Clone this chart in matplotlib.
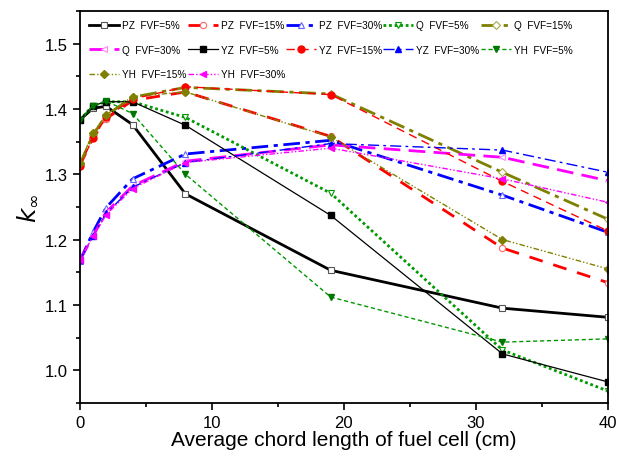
import matplotlib
matplotlib.use("Agg")
import matplotlib.pyplot as plt
from matplotlib.ticker import MultipleLocator

plt.rcParams['font.family'] = ['Liberation Sans', 'DejaVu Sans']
plt.rcParams['mathtext.fontset'] = 'dejavusans'

# chord lengths (cm)
x = [0, 1, 2, 4, 8, 19, 32, 40]

# k-infinity values
pz5 = [1.383, 1.401, 1.404, 1.376, 1.270, 1.153, 1.095, 1.081]
pz15 = [1.313, 1.355, 1.385, 1.413, 1.426, 1.358, 1.187, 1.134]
pz30 = [1.167, 1.211, 1.249, 1.293, 1.331, 1.352, 1.268, 1.211]
q5 = [1.383, 1.405, 1.411, 1.411, 1.387, 1.271, 1.031, 0.968]
q15 = [1.315, 1.360, 1.390, 1.418, 1.433, 1.423, 1.303, 1.231]
q30 = [1.168, 1.205, 1.242, 1.282, 1.320, 1.345, 1.326, 1.290]
yz5 = [1.383, 1.405, 1.411, 1.411, 1.375, 1.237, 1.025, 0.982]
yz15 = [1.313, 1.355, 1.387, 1.415, 1.434, 1.422, 1.289, 1.213]
yz30 = [1.168, 1.205, 1.240, 1.280, 1.318, 1.347, 1.337, 1.303]
yh5 = [1.383, 1.405, 1.412, 1.393, 1.300, 1.112, 1.043, 1.048]
yh15 = [1.317, 1.363, 1.391, 1.419, 1.426, 1.357, 1.200, 1.155]
yh30 = [1.168, 1.205, 1.238, 1.278, 1.318, 1.340, 1.293, 1.257]

olive = '#808000'
green = '#009900'

fig = plt.figure(figsize=(6.18, 4.6), dpi=100)
ax = fig.add_axes([0.129, 0.122, 0.855, 0.852])

h = {}
h['pz5'], = ax.plot(x, pz5, color='black', lw=2, ls='-', marker='s', ms=4.5,
                    mfc='white', mec='#555555', mew=0.8, label='PZ  FVF=5%')
h['pz15'], = ax.plot(x, pz15, color='red', lw=2, ls=(0, (5, 4)), marker='o', ms=4.5,
                     mfc='white', mec='#ff6666', mew=0.8, label='PZ  FVF=15%')
h['pz30'], = ax.plot(x, pz30, color='blue', lw=2, ls=(0, (6, 2, 1.5, 2)), marker='^', ms=5,
                     mfc='white', mec='#6666ff', mew=0.8, label='PZ  FVF=30%')
h['q5'], = ax.plot(x, q5, color=green, lw=2, ls=(0, (1, 1)), marker='v', ms=5,
                   mfc='white', mec=green, mew=0.8, label='Q  FVF=5%')
h['q15'], = ax.plot(x, q15, color=olive, lw=2, ls=(0, (6, 2, 1.5, 2)), marker='D', ms=4,
                    mfc='white', mec='#aaaa44', mew=0.8, label='Q  FVF=15%')
h['q30'], = ax.plot(x, q30, color='magenta', lw=2, ls=(0, (6, 3)), marker='<', ms=5,
                    mfc='white', mec='#ff88ff', mew=0.8, label='Q  FVF=30%')
h['yz5'], = ax.plot(x, yz5, color='black', lw=0.9, ls='-', marker='s', ms=4.5,
                    mfc='black', mec='black', label='YZ  FVF=5%')
h['yz15'], = ax.plot(x, yz15, color='red', lw=1, ls=(0, (6, 4)), marker='o', ms=5,
                     mfc='red', mec='red', label='YZ  FVF=15%')
h['yz30'], = ax.plot(x, yz30, color='blue', lw=1, ls=(0, (8, 3, 2, 3)), marker='^', ms=5,
                     mfc='blue', mec='blue', label='YZ  FVF=30%')
h['yh5'], = ax.plot(x, yh5, color=green, lw=1, ls=(0, (3, 2)), marker='v', ms=5,
                    mfc='#007700', mec='#007700', label='YH  FVF=5%')
h['yh15'], = ax.plot(x, yh15, color=olive, lw=1, ls=(0, (4, 1.5, 1, 1.5, 1, 1.5)), marker='D', ms=4,
                     mfc=olive, mec=olive, label='YH  FVF=15%')
h['yh30'], = ax.plot(x, yh30, color='magenta', lw=1, ls=(0, (4, 1.5, 1, 1.5, 1, 1.5)), marker='<', ms=5,
                     mfc='magenta', mec='magenta', label='YH  FVF=30%')

# matplotlib fills legend columns first; reorder so rows read left to right
order = ['pz5', 'q30', 'yh15', 'pz15', 'yz5', 'yh30',
         'pz30', 'yz15', 'q5', 'yz30', 'q15', 'yh5']
handles = [h[k] for k in order]
ax.legend(handles=handles, labels=[hh.get_label() for hh in handles],
          ncol=5, loc='upper left', frameon=False, fontsize=7.2,
          handlelength=3.0, handletextpad=0.3, columnspacing=0.1,
          labelspacing=1.45, borderaxespad=0.55)

ax.set_xlim(0, 40)
ax.set_ylim(0.95, 1.55)
ax.xaxis.set_major_locator(MultipleLocator(10))
ax.xaxis.set_minor_locator(MultipleLocator(5))
ax.yaxis.set_major_locator(MultipleLocator(0.1))
ax.yaxis.set_minor_locator(MultipleLocator(0.05))
ax.yaxis.set_major_formatter(matplotlib.ticker.FormatStrFormatter('%.1f'))
ax.tick_params(which='both', direction='out', width=1.2, labelsize=12)
ax.tick_params(which='major', length=5)
ax.tick_params(which='minor', length=3)
for s in ax.spines.values():
    s.set_linewidth(1.3)

ax.set_xlabel("Average chord length of fuel cell (cm)", fontsize=15, labelpad=0)
ax.set_ylabel(r'$k_{\infty}$', fontsize=18, labelpad=4)

fig.savefig("out.png", dpi=100)
